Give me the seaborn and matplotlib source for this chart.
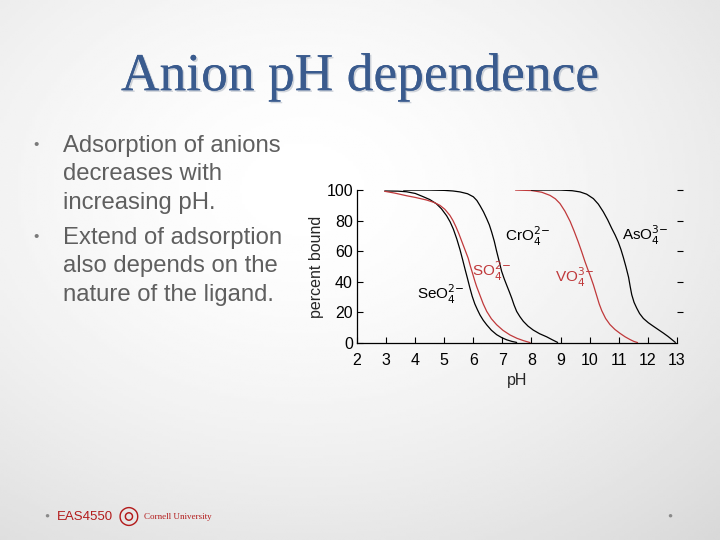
import numpy as np
import pandas as pd
import seaborn as sns
import matplotlib.pyplot as plt
import matplotlib.patheffects as pe

# curves (pH, percent bound)
seo4_ph = [2.95, 3.40, 3.70, 4.00, 4.27, 4.50, 4.73, 4.90, 5.08, 5.20, 5.31, 5.43, 5.54, 5.63, 5.71,
           5.80, 5.88, 5.96, 6.05, 6.14, 6.23, 6.34, 6.46, 6.62, 6.80, 6.98, 7.15, 7.32, 7.49]
seo4_pct = [99.4, 99.3, 98.9, 97.8, 95.7, 93.8, 91.0, 87.8, 83.2, 79.2, 74.5, 68.0, 61.0, 54.5, 48.5,
            42.0, 36.0, 30.5, 25.5, 21.7, 18.2, 14.8, 11.8, 8.3, 5.4, 3.4, 2.0, 1.0, 0.3]

so4_ph = [2.95, 3.30, 3.70, 4.00, 4.39, 4.65, 4.85, 5.02, 5.19, 5.30, 5.40, 5.50, 5.60, 5.71, 5.82,
          5.90, 5.98, 6.05, 6.11, 6.17, 6.23, 6.34, 6.46, 6.62, 6.80, 7.02, 7.26, 7.50, 7.72, 7.95]
so4_pct = [99.2, 98.0, 96.3, 95.2, 93.5, 91.9, 90.0, 87.4, 83.5, 80.0, 76.0, 71.5, 66.5, 61.0, 55.5,
           50.0, 45.0, 40.5, 37.0, 34.0, 31.0, 25.5, 20.6, 15.8, 11.9, 8.2, 5.2, 3.0, 1.5, 0.2]

cro4_ph = [3.60, 4.50, 5.00, 5.30, 5.54, 5.80, 6.00, 6.12, 6.23, 6.35, 6.46, 6.55, 6.63, 6.72, 6.80,
           6.89, 6.97, 7.06, 7.15, 7.24, 7.32, 7.40, 7.49, 7.60, 7.72, 7.88, 8.06, 8.28, 8.52, 8.72, 8.90]
cro4_pct = [100.0, 100.0, 99.8, 99.4, 98.8, 97.6, 95.6, 93.2, 89.8, 85.7, 81.2, 77.2, 72.5, 66.5, 60.0,
            53.2, 47.0, 42.0, 37.6, 33.3, 29.3, 24.8, 20.6, 17.2, 14.1, 11.0, 8.4, 6.0, 4.0, 2.0, 0.3]

vo4_ph = [7.45, 8.00, 8.35, 8.64, 8.82, 8.98, 9.15, 9.33, 9.47, 9.61, 9.73, 9.84, 9.93, 10.02, 10.13,
          10.25, 10.33, 10.42, 10.55, 10.70, 10.87, 11.05, 11.22, 11.39, 11.52, 11.65]
vo4_pct = [100.0, 99.7, 98.6, 96.5, 94.3, 91.2, 86.2, 79.5, 73.0, 66.0, 59.5, 53.2, 48.5, 44.0, 38.0,
           30.5, 25.5, 21.0, 16.0, 12.0, 8.8, 6.2, 4.0, 2.2, 1.0, 0.2]

aso4_ph = [8.00, 9.00, 9.40, 9.67, 9.90, 10.13, 10.30, 10.47, 10.62, 10.76, 10.88, 10.99, 11.08, 11.16,
           11.25, 11.34, 11.40, 11.45, 11.53, 11.62, 11.72, 11.85, 12.02, 12.20, 12.37, 12.54, 12.70,
           12.83, 12.95]
aso4_pct = [100.0, 100.0, 99.6, 98.8, 97.3, 94.4, 90.8, 85.8, 80.6, 75.0, 70.5, 65.8, 61.0, 56.0,
            49.8, 43.0, 36.5, 31.5, 26.5, 22.8, 19.2, 16.0, 13.2, 10.8, 8.6, 6.4, 4.2, 2.2, 0.3]

curve_names = ['SeO4', 'SO4', 'CrO4', 'VO4', 'AsO4']
curve_labels = [r'SeO$_4^{2\!-}$', r'SO$_4^{2\!-}$', r'CrO$_4^{2\!-}$', r'VO$_4^{3\!-}$', r'AsO$_4^{3\!-}$']
label_pos = [(4.05, 32), (5.95, 46.5), (7.1, 69.5), (8.8, 43), (11.1, 70.5)]
curve_colors = ['black', '#c0393b', 'black', '#c0393b', 'black']

x_ticks = list(range(2, 14))
y_ticks = [0, 20, 40, 60, 80, 100]

bullets = ['Adsorption of anions\ndecreases with\nincreasing pH.',
           'Extend of adsorption\nalso depends on the\nnature of the ligand.']

df = pd.concat([
    pd.DataFrame({'ph': seo4_ph, 'pct': seo4_pct, 'anion': 'SeO4'}),
    pd.DataFrame({'ph': so4_ph, 'pct': so4_pct, 'anion': 'SO4'}),
    pd.DataFrame({'ph': cro4_ph, 'pct': cro4_pct, 'anion': 'CrO4'}),
    pd.DataFrame({'ph': vo4_ph, 'pct': vo4_pct, 'anion': 'VO4'}),
    pd.DataFrame({'ph': aso4_ph, 'pct': aso4_pct, 'anion': 'AsO4'}),
])

sns.set_theme(style='white')
plt.rcParams['font.family'] = ['Liberation Sans', 'DejaVu Sans']

fig = plt.figure(figsize=(7.2, 5.4), dpi=100)

# slide background: soft gray vignette
bg = fig.add_axes([0, 0, 1, 1])
yy, xx = np.mgrid[0:1:200j, 0:1:260j]
shade = np.sqrt(((xx - 0.42) / 0.9) ** 2 + ((yy - 0.35) / 0.9) ** 2)
bg.imshow(1 - 0.16 * np.clip(shade, 0, 1) ** 1.6, cmap='gray', vmin=0, vmax=1,
          aspect='auto', extent=[0, 1, 0, 1])
bg.axis('off')

fig.text(0.5, 0.857, 'Anion pH dependence', ha='center', va='center',
         fontsize=38.5, color='#3a5b8e', family=['Liberation Serif', 'DejaVu Serif'],
         path_effects=[pe.withSimplePatchShadow(offset=(1.2, -1.2), shadow_rgbFace='#a3acba', alpha=0.5),
                       pe.Normal()])

y0 = 0.75
for block in bullets:
    fig.text(0.046, y0 - 0.018, u'\u2022', ha='left', va='center', fontsize=11, color='#7a7a7a')
    fig.text(0.087, y0, block, ha='left', va='top', fontsize=17.2, color='#5f5f5f',
             linespacing=1.38)
    y0 -= 0.17

ax = fig.add_axes([0.496, 0.365, 0.444, 0.283])
ax.patch.set_alpha(0)
sns.lineplot(data=df, x='ph', y='pct', hue='anion', hue_order=curve_names,
             palette=dict(zip(curve_names, curve_colors)), estimator=None, sort=False,
             linewidth=0.9, legend=False, ax=ax)

for lab, (px, py), c in zip(curve_labels, label_pos, curve_colors):
    ax.text(px, py, lab, color=c, fontsize=11, ha='left', va='center')

ax.set_xlim(2, 13)
ax.set_ylim(0, 100)
ax.set_xticks(x_ticks)
ax.set_yticks(y_ticks)
ax.set_xlabel('pH', fontsize=11.5, labelpad=4)
ax.set_ylabel('percent bound', fontsize=11.5, labelpad=2)
ax.tick_params(axis='both', which='both', direction='in', length=4, width=0.8,
               labelsize=11.5, colors='black', bottom=True, left=True, right=False)
ax.tick_params(axis='x', pad=7)
ax.tick_params(axis='y', pad=3)
for s in ['top', 'right']:
    ax.spines[s].set_visible(False)
for s in ['left', 'bottom']:
    ax.spines[s].set_color('black')
    ax.spines[s].set_linewidth(0.9)

# short outward ticks on the right side
sec = ax.secondary_yaxis('right')
sec.set_yticks(y_ticks[1:])
sec.tick_params(direction='out', length=4, width=0.8, labelright=False, colors='black')
sec.spines['right'].set_visible(False)

# footer
fig.text(0.065, 0.045, u'\u25CF', fontsize=6, color='#8a8a8a', ha='center', va='center')
fig.text(0.93, 0.045, u'\u25CF', fontsize=6, color='#8a8a8a', ha='center', va='center')
fig.text(0.079, 0.042, 'EAS4550', fontsize=9.5, color='#b31b1b', ha='left', va='center')
fig.text(0.178, 0.045, u'\u25CE', fontsize=18, color='#b31b1b', ha='center', va='center')
fig.text(0.2, 0.043, 'Cornell University', fontsize=6.5, color='#b31b1b', ha='left', va='center',
         family=['Liberation Serif', 'DejaVu Serif'])

fig.savefig('out.png', dpi=100)
